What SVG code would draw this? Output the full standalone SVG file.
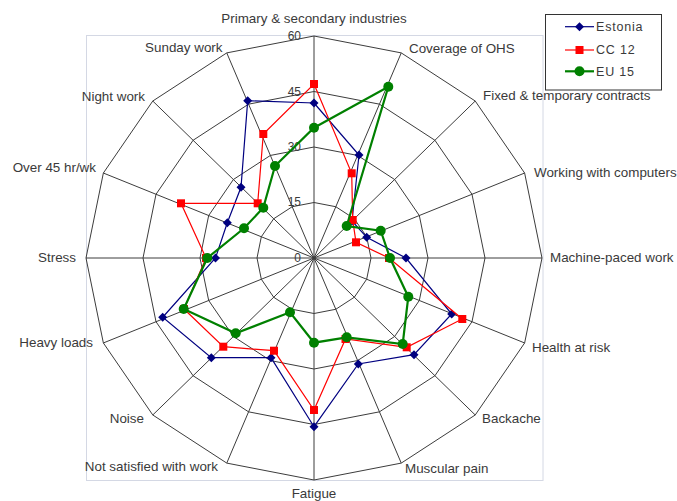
<svg xmlns="http://www.w3.org/2000/svg" width="677" height="501" viewBox="0 0 677 501">
<defs>
<style>
.grid{fill:none;stroke:#3c3c3c;stroke-width:1}
.spoke{stroke:#3c3c3c;stroke-width:1}
.frame{fill:none;stroke:#d4d8e4;stroke-width:1}
.lbl{font-family:"Liberation Sans",Arial,sans-serif;font-size:13.4px;fill:#3a3a3a}
.end{text-anchor:end}
.mid{text-anchor:middle}
.tick{font-family:"Liberation Sans",Arial,sans-serif;font-size:12px;fill:#3a3a3a;text-anchor:end}
.leg{font-family:"Liberation Sans",Arial,sans-serif;font-size:12.5px;fill:#3a3a3a;letter-spacing:0.8px}
.est{fill:none;stroke:#000080;stroke-width:1.2;marker-start:url(#mDia);marker-mid:url(#mDia)}
.cc{fill:none;stroke:#ff0000;stroke-width:1.2;marker-start:url(#mSq);marker-mid:url(#mSq)}
.eu{fill:none;stroke:#008000;stroke-width:2.2;marker-start:url(#mDot);marker-mid:url(#mDot)}
</style>
<marker id="mDia" markerWidth="10" markerHeight="10" refX="5" refY="5" markerUnits="userSpaceOnUse" orient="0"><path d="M5 0.5 L9.5 5 L5 9.5 L0.5 5Z" fill="#000080"/></marker>
<marker id="mSq" markerWidth="9" markerHeight="9" refX="4.5" refY="4.5" markerUnits="userSpaceOnUse" orient="0"><rect x="0.5" y="0.5" width="8" height="8" fill="#ff0000"/></marker>
<marker id="mDot" markerWidth="11" markerHeight="11" refX="5.5" refY="5.5" markerUnits="userSpaceOnUse" orient="0"><circle cx="5.5" cy="5.5" r="5" fill="#008000"/></marker>
</defs>
<rect width="677" height="501" fill="#ffffff"/>
<g id="plot-frame"><rect class="frame" x="86.5" y="35.5" width="456.5" height="445"/></g>
<g id="grid">
<polygon class="grid" points="314,36 401.25,52.9 475.22,101.02 524.64,173.04 542,258 524.64,342.96 475.22,414.98 401.25,463.1 314,480 226.75,463.1 152.78,414.98 103.36,342.96 86,258 103.36,173.04 152.78,101.02 226.75,52.9"/>
<polygon class="grid" points="314,91.5 379.44,104.17 434.92,140.27 471.98,194.28 485,258 471.98,321.72 434.92,375.73 379.44,411.83 314,424.5 248.56,411.83 193.08,375.73 156.02,321.72 143,258 156.02,194.28 193.08,140.27 248.56,104.17"/>
<polygon class="grid" points="314,147 357.63,155.45 394.61,179.51 419.32,215.52 428,258 419.32,300.48 394.61,336.49 357.63,360.55 314,369 270.37,360.55 233.39,336.49 208.68,300.48 200,258 208.68,215.52 233.39,179.51 270.37,155.45"/>
<polygon class="grid" points="314,202.5 335.81,206.72 354.31,218.76 366.66,236.76 371,258 366.66,279.24 354.31,297.24 335.81,309.28 314,313.5 292.19,309.28 273.69,297.24 261.34,279.24 257,258 261.34,236.76 273.69,218.76 292.19,206.72"/>
<path class="spoke" d="M314 258L314 36M314 258L401.25 52.9M314 258L475.22 101.02M314 258L524.64 173.04M314 258L542 258M314 258L524.64 342.96M314 258L475.22 414.98M314 258L401.25 463.1M314 258L314 480M314 258L226.75 463.1M314 258L152.78 414.98M314 258L103.36 342.96M314 258L86 258M314 258L103.36 173.04M314 258L152.78 101.02M314 258L226.75 52.9"/>
</g>
<g id="ticks">
<text class="tick" x="301" y="40">60</text>
<text class="tick" x="301" y="96">45</text>
<text class="tick" x="301" y="151">30</text>
<text class="tick" x="301" y="206">15</text>
<text class="tick" x="301" y="262">0</text>
</g>
<g id="axis-labels">
<text class="lbl mid" x="314" y="23">Primary &amp; secondary industries</text>
<text class="lbl" x="409" y="53">Coverage of OHS</text>
<text class="lbl" x="483" y="100">Fixed &amp; temporary contracts</text>
<text class="lbl" x="534" y="177">Working with computers</text>
<text class="lbl" x="550" y="262">Machine-paced work</text>
<text class="lbl" x="532" y="352">Health at risk</text>
<text class="lbl" x="482" y="423">Backache</text>
<text class="lbl" x="405" y="473">Muscular pain</text>
<text class="lbl mid" x="314" y="498">Fatigue</text>
<text class="lbl end" x="218" y="471">Not satisfied with work</text>
<text class="lbl end" x="144" y="423">Noise</text>
<text class="lbl end" x="93" y="347">Heavy loads</text>
<text class="lbl end" x="76" y="262">Stress</text>
<text class="lbl end" x="96" y="172">Over 45 hr/wk</text>
<text class="lbl end" x="145" y="101">Night work</text>
<text class="lbl end" x="222.5" y="52">Sunday work</text>
</g>
<g id="connectors">
<g id="series-estonia"><polygon class="est" points="314,103 359,155 352,221 366.7,237.3 406,258 451.7,314 414,354.7 358.3,364 314,426.7 271,357.7 211.3,357.7 162.7,317.3 215.5,258 227.3,222.7 241,187.3 247.7,100.7"/></g>
<g id="series-cc12"><polygon class="cc" points="314,84 351.7,173.3 352.7,220 356,242.3 389,258 462.3,319 406.7,347.3 345.5,339 314,410 274,350.7 223.3,346.7 184,309 206,258 181,203.3 257.7,203.3 263.3,134"/></g>
<g id="series-eu15"><polygon class="eu" points="314,127.7 388.3,86.7 346.7,226 380.7,230.7 390,258 408.3,296.7 402.7,344 346.7,337.3 314,342.7 290,312.3 235.7,333.3 183.7,309 207.3,258 244,228.3 263.3,207.7 275,166"/></g>
</g>
<g id="legend">
<rect x="545.5" y="14.5" width="116" height="75.5" fill="#ffffff" stroke="#333333" stroke-width="1"/>
<polyline class="est" points="565,26.7 579.5,26.7 594,26.7" style="marker-start:none"/>
<text class="leg" x="596" y="31">Estonia</text>
<polyline class="cc" points="565,50 579.5,50 594,50" style="marker-start:none"/>
<text class="leg" x="596" y="54">CC 12</text>
<polyline class="eu" points="565,71.3 579.5,71.3 594,71.3" style="marker-start:none"/>
<text class="leg" x="596" y="76">EU 15</text>
</g>
</svg>
